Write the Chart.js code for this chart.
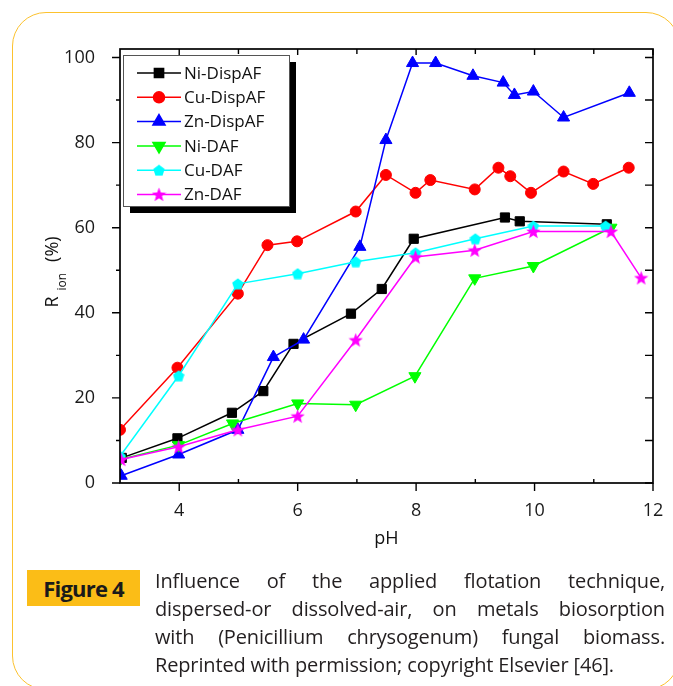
<!DOCTYPE html>
<html>
<head>
<meta charset="utf-8">
<script src="https://cdn.jsdelivr.net/npm/chart.js@4.4.1/dist/chart.umd.min.js"></script>
<style>
  body { margin: 0; background: #fff; }
  #wrap { position: relative; width: 673px; height: 686px; overflow: hidden; }
  #frame {
    position: absolute; left: 12px; top: 12px; width: 668px; height: 678px;
    border: 1.5px solid #fcc22e; border-radius: 34px; box-sizing: border-box;
  }
  #chartBox { position: absolute; left: 0; top: 0; width: 673px; height: 686px; }
  #figLabel {
    position: absolute; left: 27px; top: 570px; width: 113px; height: 36px;
    background: #fbbd17; color: #1a1a1a; font: bold 22px "Open Sans", sans-serif;
    line-height: 36px; text-align: center; letter-spacing: -0.8px;
  }
  #caption {
    position: absolute; left: 155px; top: 567px; width: 510px;
    font: 20px "Open Sans", sans-serif; line-height: 28px; color: #231f20;
    letter-spacing: -0.15px;
  }
  #caption div { text-align: justify; text-align-last: justify; white-space: nowrap; }
  #caption div.last { text-align-last: left; }
</style>
</head>
<body>
<div id="wrap">
  <div id="frame"></div>
  <div id="chartBox"><canvas id="chart"></canvas></div>
  <div id="figLabel">Figure 4</div>
  <div id="caption">
    <div>Influence of the applied flotation technique,</div>
    <div>dispersed-or dissolved-air, on metals biosorption</div>
    <div>with (Penicillium chrysogenum) fungal biomass.</div>
    <div class="last">Reprinted with permission; copyright Elsevier [46].</div>
  </div>
</div>
<script>
// values (pH, R_ion %)
const niDispX = [3.03, 3.97, 4.89, 5.42, 5.93, 6.90, 7.42, 7.96, 9.50, 9.75, 11.22];
const niDispY = [5.9, 10.5, 16.5, 21.6, 32.7, 39.8, 45.6, 57.4, 62.4, 61.5, 60.8];

const cuDispX = [3.0, 3.97, 4.99, 5.49, 5.99, 6.98, 7.49, 7.99, 8.24, 8.99, 9.39, 9.59, 9.94, 10.49, 10.99, 11.59];
const cuDispY = [12.5, 27.1, 44.5, 55.9, 56.8, 63.8, 72.4, 68.2, 71.2, 69.0, 74.1, 72.1, 68.2, 73.2, 70.3, 74.1];

const znDispX = [3.02, 3.99, 4.99, 5.59, 6.10, 7.05, 7.49, 7.94, 8.33, 8.96, 9.47, 9.66, 9.98, 10.49, 11.60];
const znDispY = [1.7, 6.7, 12.5, 29.6, 33.7, 55.5, 80.6, 98.7, 98.7, 95.7, 94.1, 91.2, 92.0, 85.9, 91.7];

const niDafX = [3.0, 3.99, 4.90, 6.0, 6.98, 7.98, 8.99, 9.98, 11.29];
const niDafY = [5.5, 8.9, 14.0, 18.7, 18.4, 25.1, 48.1, 51.0, 60.0];

const cuDafX = [3.0, 3.99, 4.99, 6.0, 6.98, 7.99, 9.0, 9.98, 11.2];
const cuDafY = [6.3, 25.2, 46.8, 49.2, 52.0, 54.1, 57.4, 60.4, 60.4];

const znDafX = [3.02, 3.99, 4.99, 6.0, 6.98, 7.99, 8.99, 9.98, 11.29, 11.80];
const znDafY = [5.5, 8.5, 12.5, 15.7, 33.6, 53.1, 54.7, 59.1, 59.1, 48.2];

const xTicks = [4, 6, 8, 10, 12];
const xMinorTicks = [5, 7, 9, 11];
const yTicks = [0, 20, 40, 60, 80, 100];
const yMinorTicks = [10, 30, 50, 70, 90];

// filled pentagon / star markers (chart.js has no such styles)
function shapeCanvas(kind, size, color) {
  const c = document.createElement("canvas");
  c.width = c.height = size;
  const g = c.getContext("2d");
  const r = size / 2;
  const n = kind === "star" ? 10 : 5;
  g.beginPath();
  for (let i = 0; i < n; i++) {
    const a = -Math.PI / 2 + (i * 2 * Math.PI) / n;
    const rr = kind === "star" && i % 2 ? r * 0.42 : r;
    g.lineTo(r + rr * Math.cos(a), r + 0.6 + rr * Math.sin(a));
  }
  g.closePath();
  g.fillStyle = color;
  g.fill();
  return c;
}

const series = [
  { label: "Ni-DispAF", xs: niDispX, ys: niDispY, color: "#000000", style: "rect", radius: 6.5, rot: 0 },
  { label: "Cu-DispAF", xs: cuDispX, ys: cuDispY, color: "#ff0000", style: "circle", radius: 5.5, rot: 0 },
  { label: "Zn-DispAF", xs: znDispX, ys: znDispY, color: "#0000ff", style: "triangle", radius: 7, rot: 0 },
  { label: "Ni-DAF", xs: niDafX, ys: niDafY, color: "#00ff00", style: "triangle", radius: 7, rot: 180 },
  { label: "Cu-DAF", xs: cuDafX, ys: cuDafY, color: "#00ffff", style: shapeCanvas("pent", 12, "#00ffff"), radius: 6, rot: 0 },
  { label: "Zn-DAF", xs: znDafX, ys: znDafY, color: "#ff00ff", style: shapeCanvas("star", 15, "#ff00ff"), radius: 7, rot: 0 },
];

// frame with Origin-like ticks
const frameTicks = {
  id: "frameTicks",
  afterDraw(chart) {
    const { ctx, chartArea: a, scales: { x, y } } = chart;
    ctx.save();
    ctx.strokeStyle = "#000";
    ctx.lineWidth = 1.4;
    ctx.beginPath();
    xTicks.forEach((v) => {
      const p = x.getPixelForValue(v);
      ctx.moveTo(p, a.bottom); ctx.lineTo(p, a.bottom + 8);
      ctx.moveTo(p, a.top); ctx.lineTo(p, a.top + 6);
    });
    xMinorTicks.forEach((v) => {
      const p = x.getPixelForValue(v);
      ctx.moveTo(p, a.bottom); ctx.lineTo(p, a.bottom - 4);
      ctx.moveTo(p, a.top); ctx.lineTo(p, a.top + 5);
    });
    yTicks.forEach((v) => {
      const p = y.getPixelForValue(v);
      ctx.moveTo(a.left, p); ctx.lineTo(a.left - 8, p);
      ctx.moveTo(a.right, p); ctx.lineTo(a.right - 8, p);
    });
    yMinorTicks.forEach((v) => {
      const p = y.getPixelForValue(v);
      ctx.moveTo(a.left, p); ctx.lineTo(a.left - 4, p);
      ctx.moveTo(a.right, p); ctx.lineTo(a.right - 8, p);
    });
    ctx.stroke();
    ctx.lineWidth = 1.7;
    ctx.strokeRect(a.left, a.top, a.right - a.left, a.bottom - a.top);

    // axis titles
    ctx.fillStyle = "#111";
    ctx.font = '18px "Open Sans"';
    ctx.textAlign = "center";
    ctx.textBaseline = "alphabetic";
    ctx.fillText("pH", (a.left + a.right) / 2, 544);

    ctx.translate(58, 272);
    ctx.rotate(-Math.PI / 2);
    ctx.textAlign = "left";
    const big = '18px "Open Sans"', small = '12px "Open Sans"';
    ctx.font = big;
    const wR = ctx.measureText("R").width;
    const wP = ctx.measureText("(%)").width;
    ctx.font = small;
    const wI = ctx.measureText("ion").width;
    const total = wR + 6 + wI + 11 + wP;
    let sx = -total / 2;
    ctx.font = big;
    ctx.fillText("R", sx, 0);
    ctx.font = small;
    ctx.fillText("ion", sx + wR + 6, 8);
    ctx.font = big;
    ctx.fillText("(%)", sx + wR + 6 + wI + 11, 0);
    ctx.restore();
  },
};

// legend box inside the plot, with drop shadow
const boxLegend = {
  id: "boxLegend",
  afterDatasetsDraw(chart) {
    const { ctx, chartArea: a } = chart;
    const bx = a.left + 3, by = a.top + 6, bw = 166, bh = 151;
    ctx.save();
    ctx.fillStyle = "#000";
    ctx.fillRect(bx + 7, by + 7, bw, bh);
    ctx.fillStyle = "#fff";
    ctx.fillRect(bx, by, bw, bh);
    ctx.strokeStyle = "#555";
    ctx.lineWidth = 1;
    ctx.strokeRect(bx + 0.5, by + 0.5, bw, bh);
    ctx.font = '17px "Open Sans"';
    ctx.textBaseline = "middle";
    series.forEach((s, i) => {
      const cy = by + 18 + i * 24.3;
      ctx.strokeStyle = s.color;
      ctx.lineWidth = 1.5;
      ctx.beginPath();
      ctx.moveTo(bx + 14, cy);
      ctx.lineTo(bx + 58, cy);
      ctx.stroke();
      ctx.fillStyle = s.color;
      Chart.helpers.drawPoint(ctx, { pointStyle: s.style, radius: s.radius, rotation: s.rot, borderWidth: 1 }, bx + 36, cy);
      ctx.fillStyle = "#111";
      ctx.fillText(s.label, bx + 61, cy + 1);
    });
    ctx.restore();
  },
};

new Chart(document.getElementById("chart"), {
  type: "line",
  data: {
    datasets: series.map((s, i) => ({
      label: s.label,
      data: s.xs.map((x, k) => ({ x: x, y: s.ys[k] })),
      borderColor: s.color,
      backgroundColor: s.color,
      borderWidth: 1.5,
      pointStyle: s.style,
      pointRadius: s.radius,
      pointRotation: s.rot,
      pointBorderWidth: 1,
      tension: 0,
      order: series.length - i,
    })),
  },
  options: {
    responsive: true,
    maintainAspectRatio: false,
    animation: false,
    layout: { padding: { left: 0, top: 49, right: 20, bottom: 143 } },
    plugins: { legend: { display: false }, tooltip: { enabled: false } },
    scales: {
      x: {
        type: "linear",
        min: 3,
        max: 12,
        grid: { display: false },
        border: { display: false },
        afterBuildTicks: (sc) => { sc.ticks = xTicks.map((v) => ({ value: v })); },
        afterFit: (sc) => { sc.height = 60; },
        ticks: { font: { family: "Open Sans", size: 18 }, color: "#1a1a1a", padding: 9, maxRotation: 0 },
      },
      y: {
        min: 0,
        max: 102,
        grid: { display: false },
        border: { display: false },
        afterBuildTicks: (sc) => { sc.ticks = yTicks.map((v) => ({ value: v })); },
        afterFit: (sc) => { sc.width = 120; },
        ticks: { font: { family: "Open Sans", size: 18 }, color: "#1a1a1a", padding: 17 },
      },
    },
  },
  plugins: [boxLegend, frameTicks],
});
</script>
</body>
</html>
